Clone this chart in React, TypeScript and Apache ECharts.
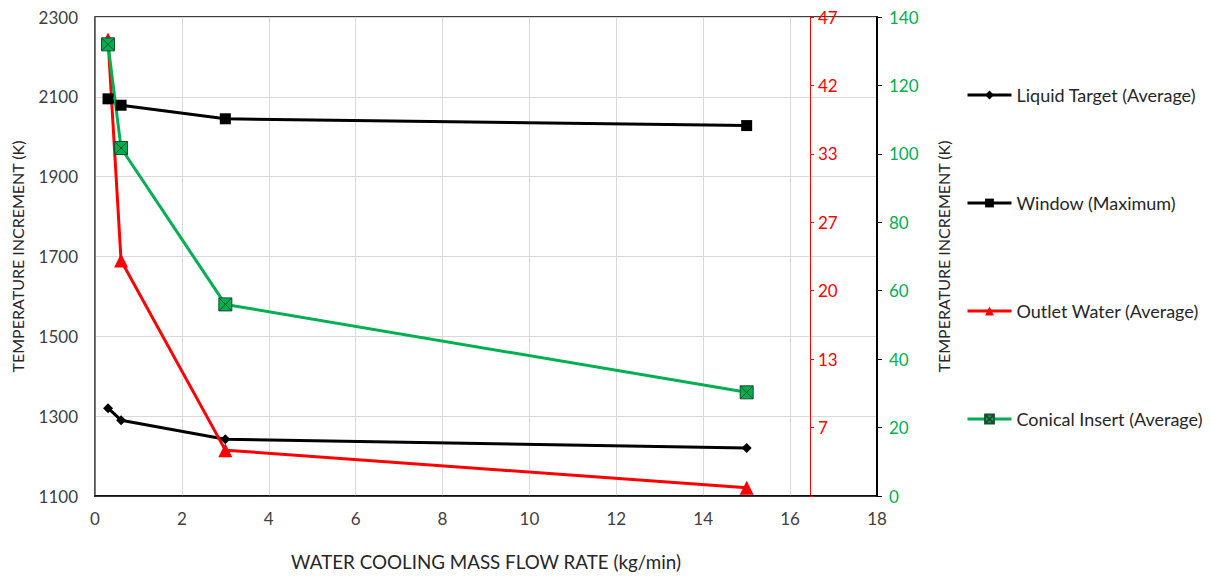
import React, { useEffect, useRef } from "react";
import * as echarts from "echarts";

const flowRates = [0.3, 0.6, 3, 15];
const liquidTarget = [1320, 1290, 1242, 1220];
const windowMax = [2095, 2079, 2045, 2028];
const outletWater = [44.8, 23.1, 4.5, 0.8];
const conicalInsert = [132, 101.7, 56, 30.3];

const seriesNames = [
  "Liquid Target (Average)",
  "Window (Maximum)",
  "Outlet Water (Average)",
  "Conical Insert (Average)",
];
const redTickLabels = ["", "7", "13", "20", "27", "33", "42", "47"];
const redMax = 47;

const FONT = "Lato";

const pairs = (ys: number[]) => flowRates.map((x, i) => [x, ys[i]]);

export default function App() {
  const ref = useRef<HTMLDivElement>(null);
  useEffect(() => {
    if (!ref.current) return;
    const chart = echarts.init(ref.current, undefined, { renderer: "svg" });
    const redInterval = redMax / 7;
    chart.setOption({
      animation: false,
      textStyle: { fontFamily: FONT },
      grid: {
        left: 95,
        right: 334,
        top: 17,
        bottom: 78,
        show: true,
        borderColor: "#000",
        borderWidth: 1.5,
        backgroundColor: "transparent",
      },
      legend: {
        orient: "vertical",
        left: 966,
        top: 86,
        padding: 0,
        itemWidth: 44,
        itemHeight: 11,
        itemGap: 90,
        lineStyle: { width: 3 },
        textStyle: { fontFamily: FONT, fontSize: 18, color: "#262626", lineHeight: 12 },
        data: seriesNames,
      },
      xAxis: {
        type: "value",
        min: 0,
        max: 18,
        interval: 2,
        name: "WATER COOLING MASS FLOW RATE (kg/min)",
        nameLocation: "middle",
        nameGap: 56,
        nameTextStyle: { fontFamily: FONT, fontSize: 18.8, color: "#262626" },
        axisLine: { lineStyle: { color: "#000", width: 1.5 } },
        axisTick: { show: false },
        axisLabel: { fontSize: 17, color: "#404040", margin: 14, fontFamily: FONT },
        splitLine: { show: true, lineStyle: { color: "#d9d9d9", width: 1 } },
      },
      yAxis: [
        {
          type: "value",
          min: 1100,
          max: 2300,
          interval: 200,
          position: "left",
          name: "TEMPERATURE INCREMENT (K)",
          nameLocation: "middle",
          nameRotate: 90,
          nameGap: 70,
          nameTextStyle: { fontFamily: FONT, fontSize: 16, color: "#262626" },
          axisLine: { show: true, lineStyle: { color: "#595959", width: 1.5 } },
          axisTick: { show: false },
          axisLabel: {
            fontSize: 17,
            color: "#404040",
            margin: 17,
            fontFamily: FONT,
            formatter: (v: number) => String(v),
          },
          splitLine: { show: true, lineStyle: { color: "#d9d9d9", width: 1 } },
        },
        {
          type: "value",
          min: 0,
          max: redMax,
          interval: redInterval,
          position: "right",
          offset: -67,
          axisLine: { show: true, onZero: false, lineStyle: { color: "#ff0000", width: 1 } },
          axisTick: { show: true, length: 4, lineStyle: { color: "#ff0000" } },
          axisLabel: {
            fontSize: 17,
            color: "#ff0000",
            margin: 8,
            fontFamily: FONT,
            formatter: (v: number) => redTickLabels[Math.round(v / redInterval)] ?? "",
          },
          splitLine: { show: false },
        },
        {
          type: "value",
          min: 0,
          max: 140,
          interval: 20,
          position: "right",
          name: "TEMPERATURE INCREMENT (K)",
          nameLocation: "middle",
          nameRotate: 90,
          nameGap: 58,
          nameTextStyle: { fontFamily: FONT, fontSize: 16, color: "#262626" },
          axisLine: { show: true, onZero: false, lineStyle: { color: "#000", width: 2 } },
          axisTick: { show: true, length: 5, lineStyle: { color: "#000" } },
          axisLabel: { fontSize: 17, color: "#00b050", margin: 12, fontFamily: FONT },
          splitLine: { show: false },
        },
      ],
      series: [
        {
          name: seriesNames[0],
          type: "line",
          yAxisIndex: 0,
          data: pairs(liquidTarget),
          symbol: "diamond",
          symbolSize: 10,
          lineStyle: { color: "#000", width: 3 },
          itemStyle: { color: "#000" },
        },
        {
          name: seriesNames[1],
          type: "line",
          yAxisIndex: 0,
          data: pairs(windowMax),
          symbol: "rect",
          symbolSize: 11,
          lineStyle: { color: "#000", width: 3 },
          itemStyle: { color: "#000" },
        },
        {
          name: seriesNames[2],
          type: "line",
          yAxisIndex: 1,
          data: pairs(outletWater),
          symbol: "triangle",
          symbolSize: 14,
          lineStyle: { color: "#ff0000", width: 3 },
          itemStyle: { color: "#ff0000" },
        },
        {
          name: seriesNames[3],
          type: "line",
          yAxisIndex: 2,
          data: pairs(conicalInsert),
          symbol: "path://M0,0 L10,0 L10,10 L0,10 Z M0,0 L10,10 M10,0 L0,10",
          symbolSize: 13,
          lineStyle: { color: "#00b050", width: 3 },
          itemStyle: { color: "#00b050", borderColor: "#1a4d2e", borderWidth: 1 },
        },
      ],
    });
    return () => chart.dispose();
  }, []);
  return <div ref={ref} style={{ width: 1211, height: 576, position: "absolute", left: 0, top: 0 }} />;
}
